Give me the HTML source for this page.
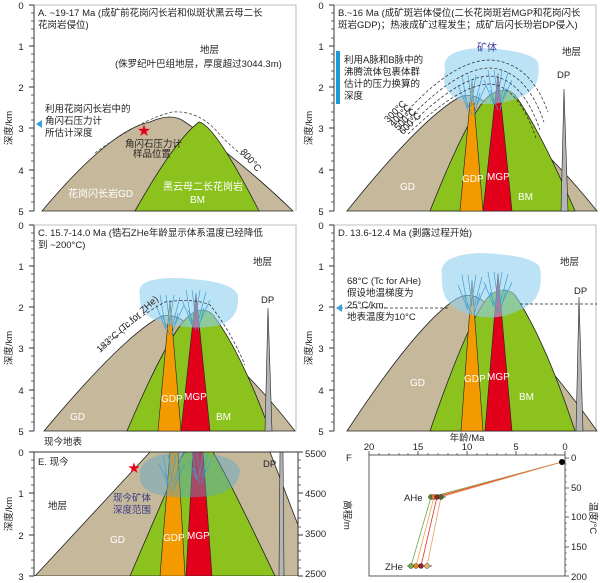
<!DOCTYPE html>
<html><head><meta charset="utf-8"><style>
body{margin:0;background:#fff}
svg{display:block;font-family:"Liberation Sans","Noto Sans CJK SC",sans-serif}
.t{font-size:9.5px;fill:#222}
.w{font-size:10px;fill:#fff}
.ax{stroke:#333;stroke-width:1;fill:none}
.fr{stroke:#aaa;stroke-width:0.8;fill:none}
</style></head><body>
<svg width="600" height="583" viewBox="0 0 600 583" xmlns="http://www.w3.org/2000/svg">
<defs>
<g id="axis">
<line x1="34" y1="5" x2="34" y2="211" class="ax"/>
<path d="M34 5h-5M34 46h-5M34 87h-5M34 128h-5M34 170h-5M34 211h-5" class="ax"/>
<path d="M34 13h-3M34 21h-3M34 29h-3M34 38h-3M34 54h-3M34 62h-3M34 71h-3M34 79h-3M34 95h-3M34 103h-3M34 112h-3M34 120h-3M34 136h-3M34 145h-3M34 153h-3M34 161h-3M34 178h-3M34 186h-3M34 194h-3M34 202h-3" stroke="#333" stroke-width="0.7"/>
<text x="21" y="9" class="t" text-anchor="middle" font-size="10">0</text>
<text x="21" y="50" class="t" text-anchor="middle" font-size="10">1</text>
<text x="21" y="91" class="t" text-anchor="middle" font-size="10">2</text>
<text x="21" y="132" class="t" text-anchor="middle" font-size="10">3</text>
<text x="21" y="174" class="t" text-anchor="middle" font-size="10">4</text>
<text x="21" y="215" class="t" text-anchor="middle" font-size="10">5</text>
<text transform="translate(12,128) rotate(-90)" class="t" text-anchor="middle" font-size="10">深度/km</text>
<path d="M34 5H296V211" class="fr"/>
</g>
<g id="veins" stroke="#3aa0d8" stroke-width="0.7" fill="none">
<path d="M-10 0l6 35M-4 0l4 30M4 0l-5 32M10 2l-8 30M-14 10l10 25M14 10l-10 22M-8 20l8 20M8 18l-6 22"/>
</g>
</defs>

<!-- Panel A -->
<g>
<use href="#axis"/>
<path d="M42 211 Q110 130 150 122 Q172 112 185 122 Q240 160 293 211Z" fill="#c6b89b" stroke="#222" stroke-width="0.8"/>
<path d="M135 211 Q175 140 199 122 Q215 125 259 211Z" fill="#8cc21e" stroke="#222" stroke-width="0.8"/>
<path d="M95 153 Q140 120 172 112 Q200 110 220 135 Q235 150 248 160" fill="none" stroke="#333" stroke-width="0.7" stroke-dasharray="3,2"/>
<text x="240" y="152" class="t" transform="rotate(50 240 152)">800°C</text>
<text x="38" y="16" class="t">A. ~19-17 Ma (成矿前花岗闪长岩和似斑状黑云母二长</text>
<text x="38" y="28" class="t">花岗岩侵位)</text>
<text x="200" y="53" class="t" font-size="10">地层</text>
<text x="115" y="67" class="t" font-size="10">(侏罗纪叶巴组地层，厚度超过3044.3m)</text>
<text x="45" y="112" class="t">利用花岗闪长岩中的</text>
<text x="45" y="124" class="t">角闪石压力计</text>
<text x="45" y="136" class="t">所估计深度</text>
<path d="M36 124 L42 120 V128Z" fill="#3aa0d8"/>
<text x="144" y="135" fill="#e3001b" font-size="13" text-anchor="middle">★</text>
<text x="125" y="147" class="t" font-size="8.5">角闪石压力计</text>
<text x="133" y="157" class="t" font-size="8.5">样品位置</text>
<text x="68" y="197" class="w">花岗闪长岩GD</text>
<text x="163" y="190" class="w">黑云母二长花岗岩</text>
<text x="190" y="203" class="w">BM</text>
</g>

<!-- Panel B -->
<g transform="translate(300,0)">
<use href="#axis"/>
<path d="M47 211 Q120 120 158 98 Q170 92 182 100 Q240 140 297 211Z" fill="#c6b89b" stroke="#222" stroke-width="0.8"/>
<path d="M130 211 Q170 110 190 95 Q205 85 215 95 Q240 130 275 211Z" fill="#8cc21e" stroke="#222" stroke-width="0.8"/>
<path d="M160 211 L172 80 L183 211Z" fill="#f39a00" stroke="#222" stroke-width="0.6"/>
<path d="M183 211 L198 73 L212 211Z" fill="#e3001b" stroke="#222" stroke-width="0.6"/>
<path d="M261 211 L264 89 L268 211Z" fill="#b5b5b5" stroke="#222" stroke-width="0.6"/>
<path d="M145 70 Q140 50 180 48 Q230 50 238 62 Q242 85 225 95 Q195 110 160 100 Q140 92 145 70Z" fill="#8fcfee" fill-opacity="0.6"/>
<use href="#veins" transform="translate(172,75)"/>
<use href="#veins" transform="translate(198,70)"/>
<g fill="none" stroke="#222" stroke-width="0.7" stroke-dasharray="3,2">
<path d="M95 125 Q150 60 190 60 Q230 62 248 112"/>
<path d="M100 128 Q155 68 190 68 Q226 70 244 122"/>
<path d="M104 131 Q158 76 190 76 Q222 78 240 130"/>
<path d="M108 134 Q160 84 190 84 Q218 86 236 138"/>
</g>
<text x="88" y="123" class="t" font-size="7" transform="rotate(-45 88 123)">300°C</text>
<text x="93" y="127" class="t" font-size="7" transform="rotate(-45 93 127)">400°C</text>
<text x="98" y="131" class="t" font-size="7" transform="rotate(-45 98 131)">500°C</text>
<text x="103" y="135" class="t" font-size="7" transform="rotate(-45 103 135)">600°C</text>
<rect x="36" y="51" width="4" height="53" fill="#1a9ad6"/>
<text x="38" y="16" class="t">B.~16 Ma (成矿斑岩体侵位(二长花岗斑岩MGP和花岗闪长</text>
<text x="38" y="28" class="t">斑岩GDP)；热液成矿过程发生；成矿后闪长玢岩DP侵入)</text>
<text x="177" y="51" font-size="10" fill="#3a3a9a">矿体</text>
<text x="262" y="55" class="t" font-size="10">地层</text>
<text x="257" y="78" class="t" font-size="10" fill="#000">DP</text>
<text x="44" y="63" class="t">利用A脉和B脉中的</text>
<text x="44" y="75" class="t">沸腾流体包裹体群</text>
<text x="44" y="87" class="t">估计的压力换算的</text>
<text x="44" y="99" class="t">深度</text>
<text x="100" y="190" class="w">GD</text>
<text x="162" y="182" class="w">GDP</text>
<text x="187" y="180" class="w">MGP</text>
<text x="218" y="200" class="w">BM</text>
</g>

<!-- Panel C -->
<g transform="translate(0,220)">
<use href="#axis"/>
<path d="M44 211 Q120 120 158 98 Q170 92 182 100 Q240 140 295 211Z" fill="#c6b89b" stroke="#222" stroke-width="0.8"/>
<path d="M127 211 Q170 110 190 95 Q203 85 213 95 Q240 130 270 211Z" fill="#8cc21e" stroke="#222" stroke-width="0.8"/>
<path d="M158 211 L170 80 L181 211Z" fill="#f39a00" stroke="#222" stroke-width="0.6"/>
<path d="M181 211 L196 73 L210 211Z" fill="#e3001b" stroke="#222" stroke-width="0.6"/>
<path d="M265 211 L268 88 L272 211Z" fill="#b5b5b5" stroke="#222" stroke-width="0.6"/>
<path d="M140 75 Q135 58 175 58 Q232 60 238 75 Q240 98 220 105 Q190 112 155 100 Q138 92 140 75Z" fill="#8fcfee" fill-opacity="0.6"/>
<use href="#veins" transform="translate(170,75)"/>
<use href="#veins" transform="translate(196,70)"/>
<path d="M100 130 Q140 95 165 82 Q195 78 210 85 Q230 110 245 145" fill="none" stroke="#222" stroke-width="0.7" stroke-dasharray="3,2"/>
<text x="100" y="133" class="t" font-size="7" transform="rotate(-42 100 133)">183°C (Tc for ZHe)</text>
<text x="38" y="16" class="t">C. 15.7-14.0 Ma (锆石ZHe年龄显示体系温度已经降低</text>
<text x="38" y="28" class="t">到 ~200°C)</text>
<text x="253" y="45" class="t" font-size="10">地层</text>
<text x="261" y="83" class="t" font-size="10" fill="#000">DP</text>
<text x="70" y="200" class="w">GD</text>
<text x="161" y="182" class="w">GDP</text>
<text x="184" y="180" class="w">MGP</text>
<text x="216" y="200" class="w">BM</text>
<text x="44" y="225" class="t" font-size="10">现今地表</text>
</g>

<!-- Panel D -->
<g transform="translate(300,220)">
<use href="#axis"/>
<path d="M47 211 Q120 100 158 78 Q170 72 182 80 Q240 130 297 211Z" fill="#c6b89b" stroke="#222" stroke-width="0.8"/>
<path d="M130 211 Q170 95 190 75 Q205 65 215 75 Q245 120 275 211Z" fill="#8cc21e" stroke="#222" stroke-width="0.8"/>
<path d="M161 211 L172 60 L183 211Z" fill="#f39a00" stroke="#222" stroke-width="0.6"/>
<path d="M185 211 L198 53 L212 211Z" fill="#e3001b" stroke="#222" stroke-width="0.6"/>
<path d="M276 211 L279 77 L283 211Z" fill="#b5b5b5" stroke="#222" stroke-width="0.6"/>
<path d="M142 55 Q138 35 180 33 Q235 35 240 48 Q245 80 220 90 Q190 105 158 90 Q140 80 142 55Z" fill="#8fcfee" fill-opacity="0.6"/>
<use href="#veins" transform="translate(172,55)"/>
<use href="#veins" transform="translate(198,52)"/>
<path d="M40 88 H148 M220 84 H297" stroke="#222" stroke-width="0.7" stroke-dasharray="3,2"/>
<path d="M36 88 L42 84 V92Z" fill="#3aa0d8"/>
<text x="38" y="16" class="t">D. 13.6-12.4 Ma (剥露过程开始)</text>
<text x="260" y="45" class="t" font-size="10">地层</text>
<text x="274" y="74" class="t" font-size="10" fill="#000">DP</text>
<text x="47" y="64" class="t">68°C (Tc for AHe)</text>
<text x="47" y="76" class="t">假设地温梯度为</text>
<text x="47" y="88" class="t">25°C/km,</text>
<text x="47" y="100" class="t">地表温度为10°C</text>
<text x="110" y="166" class="w">GD</text>
<text x="164" y="162" class="w">GDP</text>
<text x="187" y="160" class="w">MGP</text>
<text x="219" y="180" class="w">BM</text>
</g>

<!-- Panel E -->
<g>
<clipPath id="ce"><rect x="34" y="452" width="264" height="124"/></clipPath>
<g clip-path="url(#ce)">
<path d="M35 576 L150 452 L270 452 L298 525 V576Z" fill="#c6b89b" stroke="#222" stroke-width="0.8"/>
<path d="M130 576 L180 460 Q190 440 205 440 Q215 450 275 576Z" fill="#8cc21e" stroke="#222" stroke-width="0.8"/>
<path d="M160 576 L170 452 L178 452 L185 576Z" fill="#f39a00" stroke="#222" stroke-width="0.6"/>
<path d="M186 576 L193 452 L203 452 L212 576Z" fill="#e3001b" stroke="#222" stroke-width="0.6"/>
<path d="M279 576 L280 452 L283 452 L284 576Z" fill="#b5b5b5" stroke="#222" stroke-width="0.6"/>
<path d="M140 475 Q138 455 180 452 Q235 452 240 470 Q238 492 210 496 Q170 500 150 492 Q138 485 140 475Z" fill="#5aa8c8" fill-opacity="0.45"/>
<use href="#veins" transform="translate(172,455) scale(0.9)"/>
<use href="#veins" transform="translate(200,452) scale(0.8)"/>
</g>
<line x1="34" y1="452" x2="298" y2="452" stroke="#333" stroke-width="1"/>
<line x1="34" y1="452" x2="34" y2="576" class="ax"/>
<line x1="298" y1="452" x2="298" y2="576" class="ax"/>
<path d="M34 452h-5M34 493h-5M34 535h-5M34 576h-5M298 452h5M298 493h5M298 535h5M298 576h5" class="ax"/>
<path d="M34 460h-3M34 468h-3M34 477h-3M34 485h-3M34 501h-3M34 510h-3M34 518h-3M34 527h-3M34 543h-3M34 551h-3M34 560h-3M34 568h-3M298 460h3M298 468h3M298 477h3M298 485h3M298 501h3M298 510h3M298 518h3M298 527h3M298 543h3M298 551h3M298 560h3M298 568h3" stroke="#333" stroke-width="0.7"/>
<text x="21" y="456" class="t" text-anchor="middle" font-size="10">0</text>
<text x="21" y="497" class="t" text-anchor="middle" font-size="10">1</text>
<text x="21" y="539" class="t" text-anchor="middle" font-size="10">2</text>
<text x="21" y="580" class="t" text-anchor="middle" font-size="10">3</text>
<text x="305" y="457" class="t" font-size="10">5500</text>
<text x="305" y="497" class="t" font-size="10">4500</text>
<text x="305" y="537" class="t" font-size="10">3500</text>
<text x="305" y="577" class="t" font-size="10">2500</text>
<text transform="translate(12,514) rotate(-90)" class="t" text-anchor="middle" font-size="10">深度/km</text>
<text x="38" y="465" class="t">E. 现今</text>
<text x="134" y="472" fill="#e3001b" font-size="12" text-anchor="middle">★</text>
<text x="263" y="467" class="t" font-size="10" fill="#000">DP</text>
<text x="48" y="509" class="t" font-size="10">地层</text>
<text x="113" y="501" font-size="9.5" fill="#3a3a8a">现今矿体</text>
<text x="113" y="513" font-size="9.5" fill="#3a3a8a">深度范围</text>
<text x="110" y="543" class="w">GD</text>
<text x="163" y="541" class="w">GDP</text>
<text x="187" y="539" class="w">MGP</text>
<text transform="translate(344,515) rotate(90)" class="t" text-anchor="middle" font-size="10">高程/m</text>
</g>

<!-- Panel F -->
<g>
<rect x="369" y="455" width="196" height="121" fill="none" stroke="#333" stroke-width="0.8"/>
<path d="M369 455v-4M418 455v-4M467 455v-4M516 455v-4M565 455v-4M565 458h4M565 488h4M565 517h4M565 547h4M565 576h4" stroke="#333" stroke-width="0.8"/>
<path d="M379 455v-2M389 455v-2M399 455v-2M408 455v-2M428 455v-2M438 455v-2M448 455v-2M457 455v-2M477 455v-2M487 455v-2M497 455v-2M506 455v-2M526 455v-2M536 455v-2M546 455v-2M555 455v-2M565 464h2M565 470h2M565 476h2M565 482h2M565 494h2M565 500h2M565 506h2M565 512h2M565 523h2M565 529h2M565 535h2M565 541h2M565 553h2M565 559h2M565 565h2M565 571h2" stroke="#333" stroke-width="0.6"/>
<text x="369" y="450" class="t" text-anchor="middle" font-size="10">20</text>
<text x="418" y="450" class="t" text-anchor="middle" font-size="10">15</text>
<text x="467" y="450" class="t" text-anchor="middle" font-size="10">10</text>
<text x="516" y="450" class="t" text-anchor="middle" font-size="10">5</text>
<text x="565" y="450" class="t" text-anchor="middle" font-size="10">0</text>
<text x="467" y="441" class="t" text-anchor="middle" font-size="9">年龄/Ma</text>
<text x="571" y="461" class="t" font-size="10">0</text>
<text x="571" y="491" class="t" font-size="10">50</text>
<text x="571" y="520" class="t" font-size="10">100</text>
<text x="571" y="550" class="t" font-size="10">150</text>
<text x="571" y="580" class="t" font-size="10">200</text>
<text transform="translate(590,518) rotate(90)" class="t" text-anchor="middle" font-size="10">温度/°C</text>
<text x="346" y="461" class="t" font-size="10" fill="#000">F</text>
<g fill="none" stroke-width="0.8">
<path d="M562 462 L431 497 L411 566" stroke="#6aa84f"/>
<path d="M562 462 L434 497 L416 566" stroke="#f0a050"/>
<path d="M562 462 L437 497 L421 566" stroke="#e03030"/>
<path d="M562 462 L441 497 L427 566" stroke="#e0a060"/>
</g>
<path d="M428 497h18M407 566h25" stroke="#333" stroke-width="0.7"/>
<circle cx="562" cy="462" r="3" fill="#000"/>
<circle cx="431" cy="497" r="2.5" fill="#5a8a2a" stroke="#222" stroke-width="0.4"/>
<circle cx="434" cy="497" r="2.5" fill="#e08a30" stroke="#222" stroke-width="0.4"/>
<circle cx="437" cy="497" r="2.5" fill="#a02020" stroke="#222" stroke-width="0.4"/>
<circle cx="441" cy="497" r="2.5" fill="#4a6a2a" stroke="#222" stroke-width="0.4"/>
<circle cx="411" cy="566" r="2.5" fill="#7ab040" stroke="#222" stroke-width="0.4"/>
<circle cx="416" cy="566" r="2.5" fill="#e08a30" stroke="#222" stroke-width="0.4"/>
<circle cx="421" cy="566" r="2.5" fill="#a02020" stroke="#222" stroke-width="0.4"/>
<circle cx="427" cy="566" r="2.5" fill="#e0b070" stroke="#222" stroke-width="0.4"/>
<text x="404" y="501" class="t" font-size="10">AHe</text>
<text x="385" y="570" class="t" font-size="10">ZHe</text>
</g>
</svg>
</body></html>
